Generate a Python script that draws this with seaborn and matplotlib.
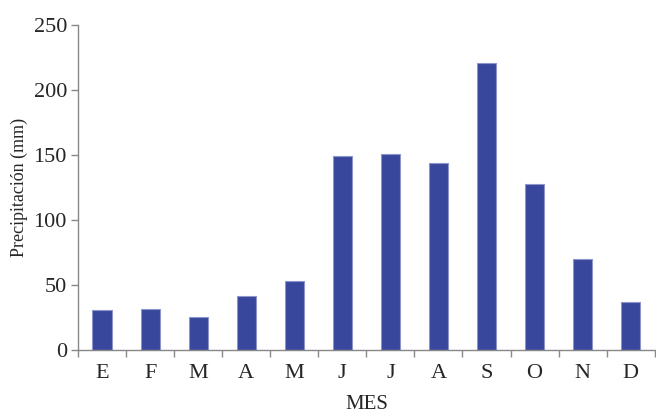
import numpy as np
import pandas as pd
import matplotlib
matplotlib.use("Agg")
import matplotlib.pyplot as plt
import seaborn as sns

# monthly rainfall
meses = ["E", "F", "M", "A", "M", "J", "J", "A", "S", "O", "N", "D"]
precip = [30.5, 31.5, 25, 41.5, 53, 149, 151, 143.5, 221, 127.5, 70, 37]

df = pd.DataFrame({"idx": list(range(len(meses))), "precip": precip})

sns.set_style("white")
plt.rcParams["font.family"] = ["Liberation Serif", "DejaVu Serif"]

fig = plt.figure(figsize=(6.56, 4.16), dpi=100)
ax = fig.add_axes([0.119, 0.159, 0.879, 0.781])

sns.barplot(data=df, x="idx", y="precip", color="#38479C", saturation=1,
            width=0.4, edgecolor="#8C95CC", linewidth=0.8, ax=ax)

ax.set_xlim(-0.5, len(meses) - 0.5)
ax.set_ylim(0, 250)
ax.set_yticks(np.arange(0, 251, 50))

# ticks between months, labels at centres
ax.set_xticks(np.arange(-0.5, len(meses), 1.0))
ax.set_xticklabels([])
ax.set_xticks(np.arange(len(meses)), minor=True)
ax.set_xticklabels(meses, minor=True)
ax.tick_params(axis="x", which="major", direction="out", length=5,
               width=1, color="#888888", bottom=True)
ax.tick_params(axis="x", which="minor", length=0, pad=10, labelsize=16)
ax.tick_params(axis="y", direction="out", length=5, width=1,
               color="#888888", left=True, labelsize=16, pad=3)

for s in ["top", "right"]:
    ax.spines[s].set_visible(False)
for s in ["left", "bottom"]:
    ax.spines[s].set_color("#888888")
    ax.spines[s].set_linewidth(1)

ax.set_xlabel("MES", fontsize=15, labelpad=9)
ax.set_ylabel("Precipitación (mm)", fontsize=13, labelpad=4)

fig.savefig("out.png", dpi=100)
